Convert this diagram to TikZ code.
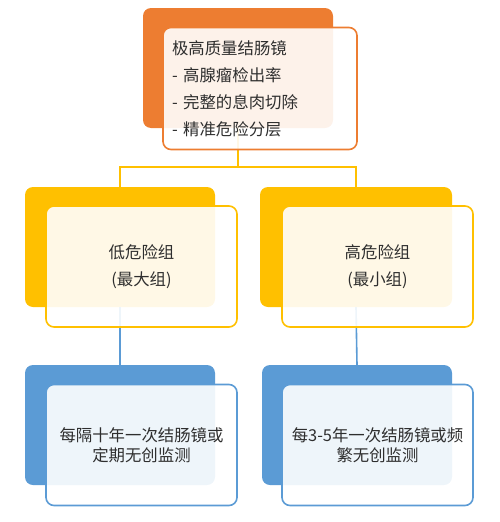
\documentclass[tikz,border=0pt]{standalone}
\usepackage{fontspec}
\setmainfont{Noto Sans CJK SC}
\usetikzlibrary{positioning}
\definecolor{orng}{HTML}{ED7D31}
\definecolor{ylw}{HTML}{FFC000}
\definecolor{blu}{HTML}{5B9BD5}
\definecolor{txt}{HTML}{2E2E2E}
\tikzset{back/.style = {rectangle, rounded corners = 8, minimum width = 190, minimum height = 120, inner sep = 0},
         front/.style = {rectangle, rounded corners = 8, line width = 1.6, fill = white, fill opacity = 0.9, text opacity = 1, minimum width = 191, minimum height = 121, inner sep = 0, text = txt, align = center, font = \fontsize{16.4}{27}\selectfont},
         link/.style = {line width = 1.6}}

\begin{document}
\begin{tikzpicture}[x=1pt, y=-1pt]
            \useasboundingbox (0,0) rectangle (500,522);
            % back boxes
            \node [back, fill=orng] (tb) at (238,68) {};
            \node [back, fill=ylw] (lb) at (120,247) {};
            \node [back, fill=ylw, minimum width=192] (hb) at (356,247) {};
            \node [back, fill=blu] (lsb) at (120,425) {};
            \node [back, fill=blu] (hsb) at (357,425) {};
            % links
            \draw [link, ylw] (tb.south) -- ++(0,39) -| (lb.north);
            \draw [link, ylw] (tb.south) -- ++(0,39) -| (hb.north);
            \draw [link, blu] (lb.south) -- (lsb.north);
            \draw [link, blu] (hb.south) -- (hsb.north);
            % front boxes
            \node [front, draw=orng, align=left, text width=176, inner xsep=9, minimum height=122] (t) at ([shift={(22,20.5)}]tb.center)
                {极高质量结肠镜\\- 高腺瘤检出率\\- 完整的息肉切除\\- 精准危险分层};
            \node [front, draw=ylw] (l) at ([shift={(21.5,19.5)}]lb.center) {低危险组\\(最大组)};
            \node [front, draw=ylw] (h) at ([shift={(21.5,19.5)}]hb.center) {高危险组\\(最小组)};
            \node [front, draw=blu, font=\fontsize{16.4}{20}\selectfont] (ls) at ([shift={(21.5,20)}]lsb.center) {每隔十年一次结肠镜或\\定期无创监测};
            \node [front, draw=blu, font=\fontsize{16.4}{20}\selectfont] (hs) at ([shift={(20.5,20)}]hsb.center) {每3-5年一次结肠镜或频\\繁无创监测};
        \end{tikzpicture}
\end{document}
